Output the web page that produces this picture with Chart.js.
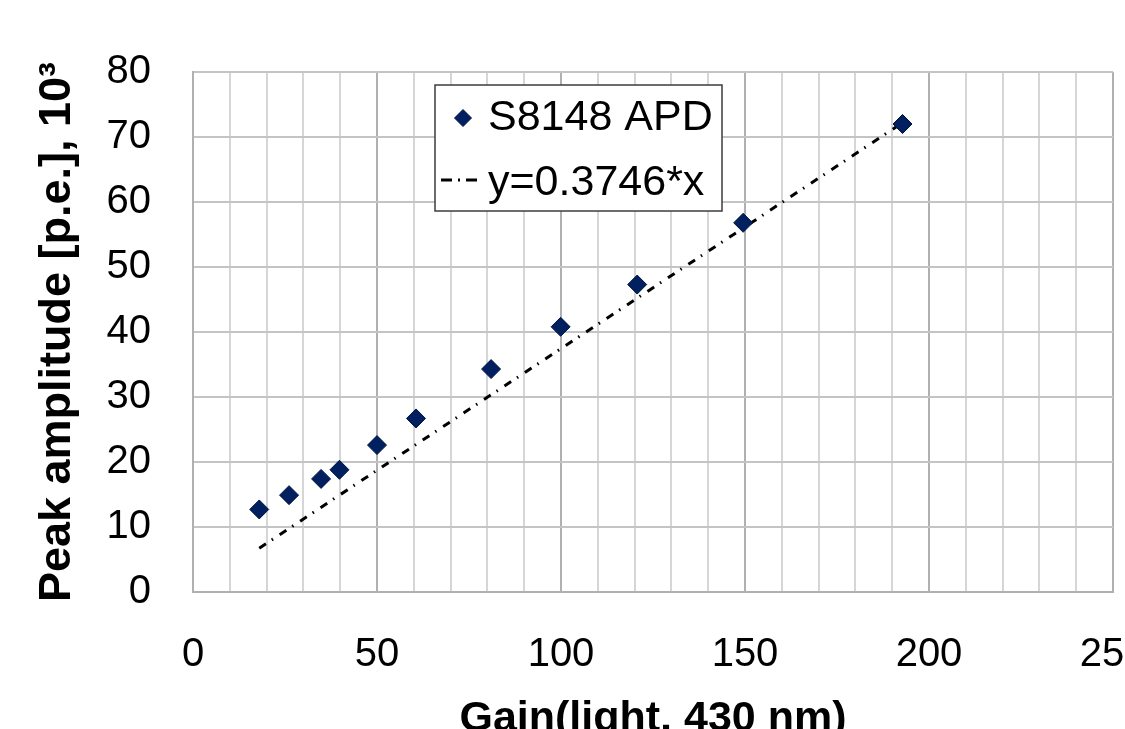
<!DOCTYPE html>
<html>
<head>
<meta charset="utf-8">
<script src="https://cdn.jsdelivr.net/npm/chart.js@4.4.1/dist/chart.umd.min.js"></script>
<style>
  html, body { margin: 0; padding: 0; background: #fff; overflow: hidden; }
  #wrap { width: 1125px; height: 729px; position: relative; }
</style>
</head>
<body>
<div id="wrap"><canvas id="chart"></canvas></div>
<script>
// Measured points
const gain = [18.0, 26.1, 34.8, 39.8, 50.0, 60.6, 81.0, 99.9, 120.7, 149.5, 192.8];
const amplitude = [12.7, 14.9, 17.4, 18.8, 22.6, 26.7, 34.3, 40.8, 47.3, 56.8, 72.0];

// Linear fit y = 0.3746*x, drawn between first and last gain
const fitGain = [18.0, 192.8];
const fitAmplitude = [6.74, 72.2];

const xTickLabels = [0, 50, 100, 150, 200, 250];
const yTickLabels = [0, 10, 20, 30, 40, 50, 60, 70, 80];

const seriesLabel = 'S8148 APD';
const fitLabel = 'y=0.3746*x';

const FONT = "'Liberation Sans', Arial, sans-serif";

// Legend box drawn inside the plot area
const boxLegend = {
  id: 'boxLegend',
  afterDatasetsDraw(chart) {
    const ctx = chart.ctx;
    const ds = chart.data.datasets;
    ctx.save();
    ctx.fillStyle = '#fff';
    ctx.fillRect(435, 85, 287, 126);
    ctx.strokeStyle = '#3c3c3c';
    ctx.lineWidth = 1.5;
    ctx.strokeRect(435, 85, 287, 126);

    // marker row
    const r = 8.5;
    ctx.beginPath();
    ctx.moveTo(463 - r, 118);
    ctx.lineTo(463, 118 - r);
    ctx.lineTo(463 + r, 118);
    ctx.lineTo(463, 118 + r);
    ctx.closePath();
    ctx.fillStyle = ds[0].backgroundColor;
    ctx.fill();
    ctx.strokeStyle = ds[0].borderColor;
    ctx.lineWidth = 1;
    ctx.stroke();

    // line row
    ctx.beginPath();
    ctx.setLineDash([11, 6, 2, 6]);
    ctx.moveTo(441, 180);
    ctx.lineTo(477, 180);
    ctx.strokeStyle = ds[1].borderColor;
    ctx.lineWidth = 3;
    ctx.stroke();
    ctx.setLineDash([]);

    ctx.fillStyle = '#000';
    ctx.font = '43px ' + FONT;
    ctx.textAlign = 'left';
    ctx.textBaseline = 'middle';
    ctx.fillText(ds[0].label, 488, 118);
    ctx.fillText(ds[1].label, 488, 183);
    ctx.restore();
  }
};

new Chart(document.getElementById('chart'), {
  type: 'scatter',
  data: {
    datasets: [
      {
        label: seriesLabel,
        data: gain.map((g, i) => ({ x: g, y: amplitude[i] })),
        showLine: false,
        pointStyle: 'rectRot',
        pointRadius: 9.5,
        backgroundColor: '#002060',
        borderColor: '#001440',
        borderWidth: 1
      },
      {
        label: fitLabel,
        data: fitGain.map((g, i) => ({ x: g, y: fitAmplitude[i] })),
        showLine: true,
        pointRadius: 0,
        borderColor: '#000',
        borderWidth: 3,
        borderDash: [8, 7, 1.5, 8],
        fill: false
      }
    ]
  },
  options: {
    responsive: true,
    maintainAspectRatio: false,
    animation: false,
    layout: { padding: { top: 72, right: 12, left: 0, bottom: 0 } },
    plugins: {
      legend: { display: false },
      tooltip: { enabled: false }
    },
    scales: {
      x: {
        type: 'linear',
        min: 0,
        max: 250,
        afterFit: s => { s.height = 137; s.paddingLeft = 0; s.paddingRight = 0; },
        ticks: {
          stepSize: 10,
          autoSkip: false,
          maxRotation: 0,
          padding: 39,
          color: '#000',
          font: { family: FONT, size: 40 },
          callback: v => xTickLabels.includes(v) ? String(v) : ''
        },
        grid: {
          drawTicks: false,
          lineWidth: 2,
          color: c => (c.tick && c.tick.value % 50 === 0) ? '#b0b0b0' : '#d6d6d6'
        },
        border: { display: true, color: '#b0b0b0', width: 2 },
        title: {
          display: true,
          text: 'Gain(light, 430 nm)',
          color: '#000',
          font: { family: FONT, size: 43, weight: 'bold' },
          padding: { top: 0, bottom: -16 }
        }
      },
      y: {
        type: 'linear',
        min: 0,
        max: 80,
        afterFit: s => { s.width = 193; s.paddingTop = 0; s.paddingBottom = 0; },
        ticks: {
          stepSize: 10,
          padding: 42,
          color: '#000',
          font: { family: FONT, size: 40 },
          callback: v => yTickLabels.includes(v) ? String(v) : ''
        },
        grid: {
          drawTicks: false,
          lineWidth: 2,
          color: '#c4c4c4'
        },
        border: { display: true, color: '#b0b0b0', width: 2 },
        title: {
          display: true,
          text: 'Peak amplitude [p.e.], 10\u00B3',
          color: '#000',
          font: { family: FONT, size: 45, weight: 'bold' },
          padding: { top: 31, bottom: 0 }
        }
      }
    }
  },
  plugins: [boxLegend]
});
</script>
</body>
</html>
